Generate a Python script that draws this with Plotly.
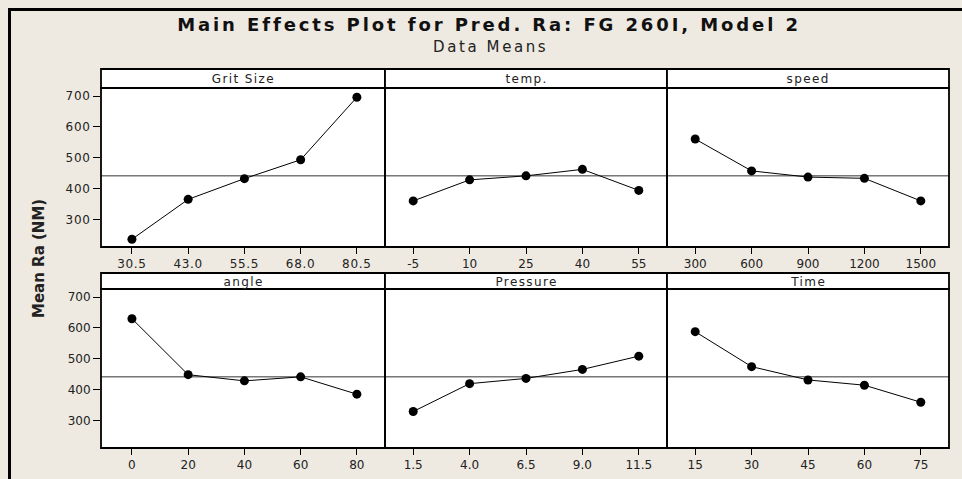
import plotly.graph_objects as go

# ---------------- data ----------------
factors = ["Grit Size", "temp.", "speed", "angle", "Pressure", "Time"]
grit_levels = ["30.5", "43.0", "55.5", "68.0", "80.5"]
grit_means = [237, 366, 433, 494, 696]
temp_levels = ["-5", "10", "25", "40", "55"]
temp_means = [361, 429, 442, 463, 395]
speed_levels = ["300", "600", "900", "1200", "1500"]
speed_means = [561, 458, 438, 434, 361]
angle_levels = ["0", "20", "40", "60", "80"]
angle_means = [630, 449, 429, 442, 386]
pressure_levels = ["1.5", "4.0", "6.5", "9.0", "11.5"]
pressure_means = [330, 420, 437, 466, 509]
time_levels = ["15", "30", "45", "60", "75"]
time_means = [588, 475, 432, 415, 360]
grand_mean = 442
y_ticks = [300, 400, 500, 600, 700]

levels = [grit_levels, temp_levels, speed_levels, angle_levels, pressure_levels, time_levels]
means = [grit_means, temp_means, speed_means, angle_means, pressure_means, time_means]

# ---------------- layout geometry (pixels) ----------------
W, H = 962, 479
col_px = [(101, 385), (385, 667), (667, 949)]
row_plot_px = [(88, 247), (289, 448)]
row_strip_px = [(69, 88), (273, 289)]

def px(x):
    return x / W

def py(y):
    return 1 - y / H

BG = "#EEEAE1"
FONT = "DejaVu Sans"

fig = go.Figure()
layout = dict(
    width=W, height=H,
    margin=dict(l=0, r=0, t=0, b=0),
    paper_bgcolor=BG, plot_bgcolor="white",
    showlegend=False,
    font=dict(family=FONT, color="#222222", size=12),
)
shapes = []
annotations = []

# outer frame (top and left edges visible in the crop)
shapes.append(dict(
    type="line", xref="paper", yref="paper", layer="below",
    x0=px(8), x1=1, y0=py(9.5), y1=py(9.5),
    line=dict(color="black", width=3),
))
shapes.append(dict(
    type="line", xref="paper", yref="paper", layer="below",
    x0=px(9.5), x1=px(9.5), y0=0, y1=py(8),
    line=dict(color="black", width=3),
))

for i in range(6):
    r, c = divmod(i, 3)
    n = i + 1
    xa = "xaxis" if n == 1 else f"xaxis{n}"
    ya = "yaxis" if n == 1 else f"yaxis{n}"
    xr = "x" if n == 1 else f"x{n}"
    yr = "y" if n == 1 else f"y{n}"

    fig.add_trace(go.Scatter(
        x=levels[i], y=means[i], xaxis=xr, yaxis=yr,
        mode="lines+markers",
        line=dict(color="black", width=1),
        marker=dict(color="black", size=9, symbol="circle"),
        hoverinfo="skip", cliponaxis=False,
    ))

    x0, x1 = col_px[c]
    yt, yb = row_plot_px[r]
    layout[xa] = dict(
        domain=[px(x0), px(x1)], anchor=yr, type="category",
        range=[-0.55 if c == 0 else -0.5, 4.5],
        showgrid=False, zeroline=False, showline=False,
        ticks="outside", ticklen=6, tickwidth=1.2, tickcolor="black",
        tickfont=dict(family=FONT, size=12, color="#222222"),
        fixedrange=True,
    )
    layout[ya] = dict(
        domain=[py(yb), py(yt)], anchor=xr,
        range=[212, 726],
        tickvals=y_ticks,
        showticklabels=(c == 0),
        ticks="outside" if c == 0 else "", ticklen=7, tickwidth=1.2, tickcolor="black",
        showgrid=False, zeroline=False, showline=False,
        tickfont=dict(family=FONT, size=12, color="#222222"),
        fixedrange=True,
    )
    # grand-mean reference line
    shapes.append(dict(
        type="line", xref=f"{xr} domain", yref=yr,
        x0=0, x1=1, y0=grand_mean, y1=grand_mean,
        line=dict(color="#333333", width=1), layer="below",
    ))
    # panel frame
    shapes.append(dict(
        type="rect", xref="paper", yref="paper",
        x0=px(x0), x1=px(x1), y0=py(yb), y1=py(yt),
        line=dict(color="black", width=1.8), fillcolor="rgba(0,0,0,0)",
    ))
    # strip header
    st, sb = row_strip_px[r]
    shapes.append(dict(
        type="rect", xref="paper", yref="paper",
        x0=px(x0), x1=px(x1), y0=py(sb), y1=py(st),
        fillcolor="white", line=dict(color="black", width=1.8),
    ))
    annotations.append(dict(
        text=factors[i], xref="paper", yref="paper",
        x=px((x0 + x1) / 2), y=py((st + sb) / 2 + 0.5),
        xanchor="center", yanchor="middle", showarrow=False,
        font=dict(family=FONT, size=12, color="#222222"),
    ))

layout["title"] = dict(
    text="<b>Main Effects Plot for Pred. Ra: FG 260I, Model 2</b>",
    x=px(489), y=py(25), xref="paper", yref="container",
    xanchor="center", yanchor="middle",
    font=dict(family=FONT, size=18, color="#111111"),
)
annotations.append(dict(
    text="Data Means", xref="paper", yref="paper",
    x=px(491), y=py(47), xanchor="center", yanchor="middle", showarrow=False,
    font=dict(family=FONT, size=15, color="#222222"),
))
annotations.append(dict(
    text="<b>Mean Ra (NM)</b>", xref="paper", yref="paper",
    x=px(39), y=py(259), xanchor="center", yanchor="middle", showarrow=False,
    textangle=-90,
    font=dict(family=FONT, size=15, color="#222222"),
))

layout["shapes"] = shapes
layout["annotations"] = annotations
fig.update_layout(**layout)

post_js = """
(function(){
  document.documentElement.style.margin='0';
  document.documentElement.style.padding='0';
  document.body.style.margin='0';
  document.body.style.padding='0';
  document.body.style.overflow='hidden';
  window.scrollTo(0, 0);
  function spacing(){
    var gd = document.getElementById('{plot_id}');
    if(!gd) return;
    gd.querySelectorAll('.gtitle').forEach(function(t){ t.style.letterSpacing='2.9px'; });
    gd.querySelectorAll('.xtick text, .ytick text').forEach(function(t){ t.style.letterSpacing='0.7px'; });
    gd.querySelectorAll('text.annotation-text').forEach(function(t){
      var s = t.textContent;
      if(s === 'Data Means'){ t.style.letterSpacing='2.6px'; }
      else if(s === 'Mean Ra (NM)'){ t.style.letterSpacing='0px'; }
      else { t.style.letterSpacing='1.4px'; }
    });
  }
  spacing();
  setTimeout(spacing, 50);
})();
"""

fig.write_html("out.html", post_script=post_js, config={"displayModeBar": False})
